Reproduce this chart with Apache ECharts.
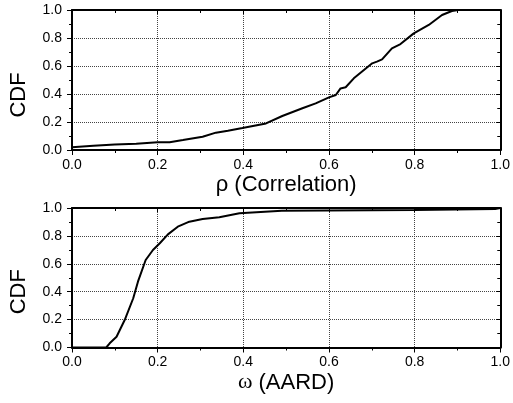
<!DOCTYPE html>
<html>
<head>
<meta charset="utf-8">
<script src="https://cdn.jsdelivr.net/npm/echarts@6/dist/echarts.min.js"></script>
<style>
  html, body { margin: 0; padding: 0; background: #fff; }
  #chart { width: 513px; height: 403px; }
</style>
</head>
<body>
<div id="chart"></div>
<script>
// top panel: CDF of rho (correlation)
var rhoX = [0, 0.05, 0.1, 0.15, 0.2, 0.228, 0.259, 0.305, 0.336, 0.364, 0.398, 0.453, 0.491, 0.538,
  0.569, 0.6, 0.616, 0.627, 0.639, 0.658, 0.701, 0.712, 0.724, 0.747, 0.767, 0.798,
  0.833, 0.864, 0.887, 0.902, 1.0]
var rhoCdf = [0.02, 0.03, 0.04, 0.045, 0.055, 0.055, 0.071, 0.095, 0.124, 0.138, 0.157, 0.19, 0.243, 0.298,
  0.333, 0.376, 0.393, 0.44, 0.448, 0.512, 0.619, 0.631, 0.647, 0.726, 0.757, 0.833,
  0.893, 0.964, 0.993, 1.0, 1.0]
// bottom panel: CDF of omega (AARD)
var omegaX = [0, 0.08, 0.088, 0.104, 0.123, 0.143, 0.154, 0.172, 0.189, 0.205, 0.224, 0.247, 0.274,
  0.305, 0.344, 0.391, 0.49, 0.8, 0.988, 1.0]
var omegaCdf = [0, 0, 0.03, 0.077, 0.197, 0.353, 0.472, 0.627, 0.699, 0.747, 0.811, 0.866, 0.902,
  0.921, 0.933, 0.962, 0.98, 0.985, 0.993, 1.0]
var tickLabels = ['0.0', '0.2', '0.4', '0.6', '0.8', '1.0']

var chart = echarts.init(document.getElementById('chart'))
var font = '"Liberation Sans", Arial, sans-serif'

function pairs(xs, ys) {
  return xs.map(function (x, i) { return [x, ys[i]] })
}
function fmt(v) {
  return tickLabels[Math.round(v * 5)]
}

// main axis (bottom / left): labels, outward ticks, dotted grid
function mainAxis(gridIndex, pos, name, nameExtra) {
  var isX = pos === 'bottom'
  var ax = {
    type: 'value',
    gridIndex: gridIndex,
    position: pos,
    min: 0,
    max: 1,
    interval: 0.2,
    name: name,
    nameLocation: 'middle',
    nameGap: isX ? 24 : 42,
    nameTextStyle: { fontFamily: font, fontSize: 22, color: '#000' },
    axisLine: { show: true, onZero: false, lineStyle: { color: '#000', width: 2 } },
    axisTick: { show: true, inside: false, length: 5, lineStyle: { color: '#000', width: 1 } },
    minorTick: { show: true, splitNumber: 2, length: 3, lineStyle: { color: '#000', width: 1 } },
    axisLabel: { fontFamily: font, fontSize: 14, color: '#000', margin: isX ? 8 : 10, formatter: fmt },
    splitLine: { show: true, lineStyle: { color: '#444', type: [1, 1], width: 1 } }
  }
  if (nameExtra) Object.assign(ax.nameTextStyle, nameExtra)
  return ax
}
// mirror axis (top / right): inward ticks only
function mirrorAxis(gridIndex, pos) {
  return {
    type: 'value',
    gridIndex: gridIndex,
    position: pos,
    min: 0,
    max: 1,
    interval: 0.2,
    axisLine: { show: true, onZero: false, lineStyle: { color: '#000', width: 2 } },
    axisTick: { show: true, inside: true, length: 4, lineStyle: { color: '#000', width: 1 } },
    minorTick: { show: true, splitNumber: 2, length: 3, lineStyle: { color: '#000', width: 1 } },
    axisLabel: { show: false },
    splitLine: { show: false }
  }
}

var option = {
  backgroundColor: '#fff',
  animation: false,
  grid: [
    { left: 72, right: 11, top: 10, height: 140 },
    { left: 72, right: 11, top: 208, height: 139.5 }
  ],
  xAxis: [
    mainAxis(0, 'bottom', 'ρ (Correlation)'),
    mirrorAxis(0, 'top'),
    mainAxis(1, 'bottom', '{g|ω} (AARD)', {
      rich: { g: { fontFamily: '"Liberation Serif", "DejaVu Serif", serif', fontSize: 22, color: '#000' } }
    }),
    mirrorAxis(1, 'top')
  ],
  yAxis: [
    mainAxis(0, 'left', 'CDF', { padding: [0, 30, 0, 0] }),
    mirrorAxis(0, 'right'),
    mainAxis(1, 'left', 'CDF', { padding: [0, 28, 0, 0] }),
    mirrorAxis(1, 'right')
  ],
  series: [
    {
      type: 'line',
      xAxisIndex: 0,
      yAxisIndex: 0,
      data: pairs(rhoX, rhoCdf),
      showSymbol: false,
      lineStyle: { color: '#000', width: 2 }
    },
    {
      type: 'line',
      xAxisIndex: 2,
      yAxisIndex: 2,
      data: pairs(omegaX, omegaCdf),
      showSymbol: false,
      lineStyle: { color: '#000', width: 2 }
    }
  ]
}
chart.setOption(option)
</script>
</body>
</html>
